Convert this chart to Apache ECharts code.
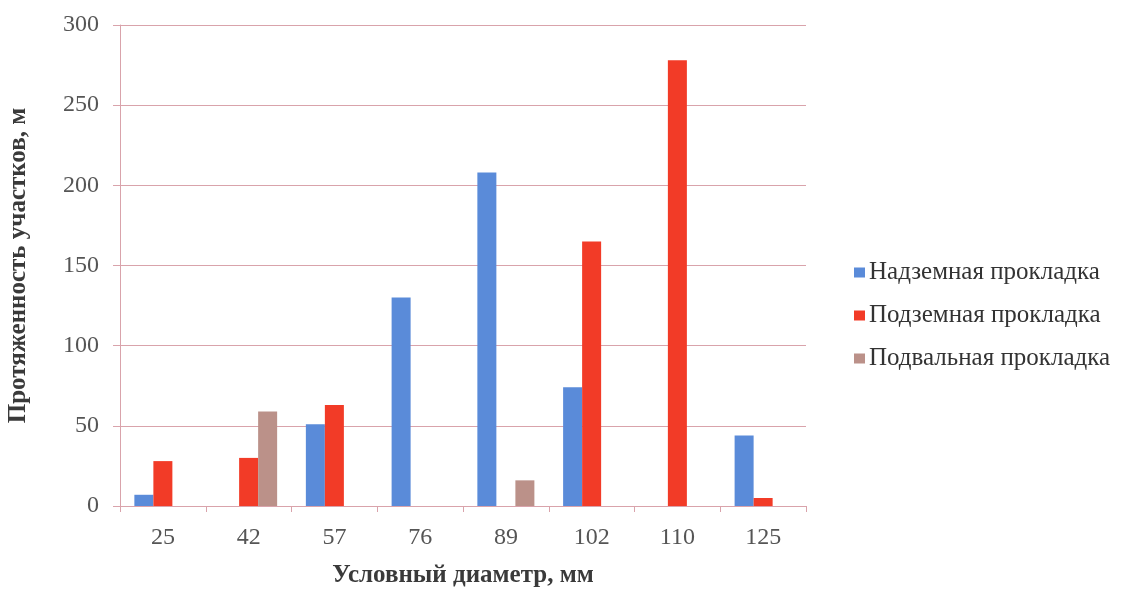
<!DOCTYPE html>
<html>
<head>
<meta charset="utf-8">
<script src="https://cdn.jsdelivr.net/npm/echarts@6/dist/echarts.min.js"></script>
<style>
  html, body { margin: 0; padding: 0; background: #ffffff; }
  #chart { width: 1133px; height: 590px; }
</style>
</head>
<body>
<div id="chart"></div>
<script>
// Условный диаметр трубопровода, мм
const diameters = ['25', '42', '57', '76', '89', '102', '110', '125'];

// Протяженность участков по типу прокладки, м
const aboveGround = [7, null, 51, 130, 208, 74, null, 44];   // Надземная
const underground = [28, 30, 63, null, null, 165, 278, 5];  // Подземная
const basement    = [null, 59, null, null, 16, null, null, null]; // Подвальная

const seriesNames = ['Надземная прокладка', 'Подземная прокладка', 'Подвальная прокладка'];
const seriesColors = ['#5a8bd9', '#f23b27', '#bb9189'];

const serif = '"Liberation Serif", "DejaVu Serif", serif';
const gridColor = '#d9a3ab';

const chart = echarts.init(document.getElementById('chart'), null, { renderer: 'canvas' });

chart.setOption({
  animation: false,
  backgroundColor: '#ffffff',
  grid: { left: 120, right: 327, top: 25, bottom: 84, containLabel: false, outerBoundsMode: 'none' },
  legend: {
    orient: 'vertical',
    left: 849,
    top: 255,
    itemWidth: 11,
    itemHeight: 10,
    itemGap: 18,
    icon: 'rect',
    textStyle: { fontFamily: serif, fontSize: 25, color: '#333333', padding: [0, 0, 0, -1] },
    data: seriesNames
  },
  xAxis: {
    type: 'category',
    data: diameters,
    name: 'Условный диаметр, мм',
    nameLocation: 'middle',
    nameGap: 57,
    nameTextStyle: { fontFamily: serif, fontSize: 25, fontWeight: 'bold', color: '#3a3a3a' },
    axisLine: { lineStyle: { color: gridColor, width: 1 } },
    axisTick: { show: true, length: 6, lineStyle: { color: gridColor } },
    axisLabel: { fontFamily: serif, fontSize: 24, color: '#555555', margin: 20 }
  },
  yAxis: {
    type: 'value',
    min: 0,
    max: 300,
    interval: 50,
    name: 'Протяженность участков, м',
    nameLocation: 'middle',
    nameGap: 89,
    nameRotate: 90,
    nameTextStyle: { fontFamily: serif, fontSize: 25, fontWeight: 'bold', color: '#3a3a3a' },
    axisLine: { show: true, lineStyle: { color: gridColor, width: 1 } },
    axisTick: { show: true, length: 7, lineStyle: { color: gridColor } },
    axisLabel: { fontFamily: serif, fontSize: 24, color: '#555555', margin: 21 },
    splitLine: { show: true, lineStyle: { color: gridColor, width: 1 } }
  },
  series: [
    { name: seriesNames[0], type: 'bar', data: aboveGround, itemStyle: { color: seriesColors[0] }, barGap: '0%', barCategoryGap: '33.5%' },
    { name: seriesNames[1], type: 'bar', data: underground, itemStyle: { color: seriesColors[1] }, barGap: '0%', barCategoryGap: '33.5%' },
    { name: seriesNames[2], type: 'bar', data: basement, itemStyle: { color: seriesColors[2] }, barGap: '0%', barCategoryGap: '33.5%' }
  ]
});
</script>
</body>
</html>
